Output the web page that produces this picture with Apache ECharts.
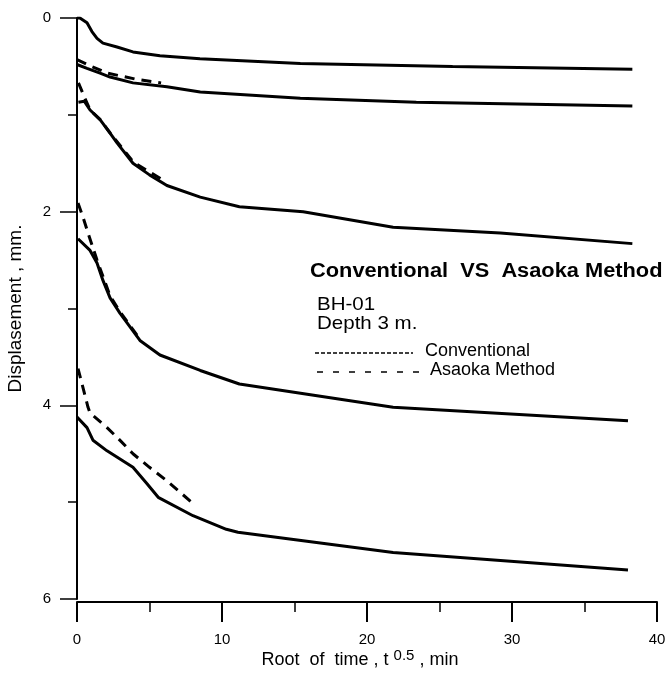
<!DOCTYPE html>
<html>
<head>
<meta charset="utf-8">
<script src="https://cdn.jsdelivr.net/npm/echarts@6/dist/echarts.min.js"></script>
<style>
    html, body { margin: 0; padding: 0; background: #fff; }
    #chart { width: 668px; height: 676px; }
</style>
</head>
<body>
<div id="chart"></div>
<script>
// x = root of time (t^0.5, min), y = displacement (mm)
const conv1 = [[0, 0], [0.2, 0], [0.69, 0.05], [1.03, 0.14], [1.38, 0.21], [1.79, 0.26], [2.76, 0.30], [3.86, 0.35], [5.72, 0.39], [8.48, 0.42], [15.4, 0.47], [25.9, 0.50], [38.3, 0.53]];
const conv2 = [[0, 0.48], [0.69, 0.52], [1.59, 0.57], [2.28, 0.61], [3.86, 0.67], [6.2, 0.71], [8.5, 0.765], [15.4, 0.83], [23.4, 0.87], [31.4, 0.89], [38.3, 0.91]];
const conv3 = [[0.1, 0.87], [0.5, 0.86], [0.9, 0.95], [1.59, 1.05], [2.28, 1.19], [2.76, 1.29], [3.86, 1.50], [5.0, 1.62], [6.2, 1.73], [8.5, 1.85], [11.2, 1.95], [15.6, 2.00], [21.8, 2.16], [29.2, 2.22], [38.3, 2.33]];
const conv4 = [[0.07, 2.28], [0.9, 2.40], [1.38, 2.53], [1.79, 2.71], [2.28, 2.89], [2.97, 3.05], [3.86, 3.23], [4.34, 3.33], [5.72, 3.48], [8.5, 3.64], [11.2, 3.78], [21.8, 4.02], [38.0, 4.16]];
const conv5 = [[0, 4.12], [0.69, 4.23], [1.1, 4.36], [2.07, 4.47], [3.86, 4.64], [4.83, 4.81], [5.6, 4.95], [8.0, 5.14], [10.3, 5.28], [11.1, 5.31], [21.8, 5.52], [38.0, 5.70]];

const asaoka2 = [[0, 0.43], [1.0, 0.50], [2.1, 0.57], [4.0, 0.63], [5.8, 0.67]];
const asaoka3 = [[0.1, 0.67], [0.55, 0.83], [0.9, 0.95], [1.6, 1.05], [2.3, 1.19], [3.9, 1.49], [5.9, 1.67]];
const asaoka4 = [[0.07, 1.91], [0.4, 2.05], [0.76, 2.22], [1.38, 2.50], [2.28, 2.87], [3.0, 3.04], [4.3, 3.31]];
const asaoka5 = [[0.07, 3.62], [0.76, 4.02], [0.9, 4.08], [2.07, 4.23], [2.76, 4.33], [3.86, 4.50], [5.0, 4.64], [6.2, 4.78], [7.9, 5.00]];

const FONT = "'Liberation Sans', Arial, sans-serif";

const chart = echarts.init(document.getElementById('chart'));

function convSeries(data) {
    return {
        name: 'Conventional',
        type: 'line',
        data: data,
        symbol: 'none',
        lineStyle: { color: '#000', width: 3 },
        silent: true
    };
}

function asaokaSeries(data) {
    return {
        name: 'Asaoka Method',
        type: 'line',
        data: data,
        symbol: 'none',
        lineStyle: { color: '#000', width: 3, type: [10, 7] },
        silent: true
    };
}

const option = {
    backgroundColor: '#fff',
    animation: false,
    grid: { left: 77, right: 11, top: 18, bottom: 77, outerBoundsMode: 'none' },
    xAxis: {
        type: 'value',
        position: 'bottom',
        min: 0,
        max: 40,
        interval: 10,
        offset: 3,
        name: 'Root  of  time , t {sup|0.5} , min',
        nameLocation: 'middle',
        nameGap: 46,
        nameMoveOverlap: false,
        nameTextStyle: {
            fontFamily: FONT, fontSize: 18, color: '#000', padding: [0, 14, 0, 0],
            rich: { sup: { fontFamily: FONT, fontSize: 15, color: '#000', padding: [0, 0, 10, 0] } }
        },
        axisLine: { onZero: false, lineStyle: { color: '#000', width: 2 } },
        axisTick: { length: 20, lineStyle: { color: '#000', width: 2 } },
        minorTick: { show: true, splitNumber: 2, length: 10, lineStyle: { color: '#000', width: 1.5 } },
        axisLabel: { fontFamily: FONT, fontSize: 15, color: '#000', margin: 30 },
        splitLine: { show: false }
    },
    yAxis: {
        type: 'value',
        inverse: true,
        min: 0,
        max: 6,
        interval: 2,
        name: 'Displasement , mm.',
        nameLocation: 'middle',
        nameGap: 52,
        nameMoveOverlap: false,
        nameTextStyle: { fontFamily: FONT, fontSize: 19, color: '#000' },
        axisLine: { onZero: false, lineStyle: { color: '#000', width: 2 } },
        axisTick: { length: 17, lineStyle: { color: '#000', width: 1.5 } },
        minorTick: { show: true, splitNumber: 2, length: 9, lineStyle: { color: '#000', width: 1.5 } },
        axisLabel: { fontFamily: FONT, fontSize: 15, color: '#000', margin: 26 },
        splitLine: { show: false }
    },
    graphic: [
        { type: 'text', x: 310, y: 271, scaleX: 1.09, style: { text: 'Conventional  VS  Asaoka Method', font: 'bold 20px ' + FONT, fill: '#000', verticalAlign: 'middle' } },
        { type: 'text', x: 317, y: 305, scaleX: 1.08, style: { text: 'BH-01', font: '19px ' + FONT, fill: '#000', verticalAlign: 'middle' } },
        { type: 'text', x: 317, y: 324, scaleX: 1.08, style: { text: 'Depth 3 m.', font: '19px ' + FONT, fill: '#000', verticalAlign: 'middle' } },
        { type: 'line', shape: { x1: 315, y1: 353, x2: 413, y2: 353 }, style: { stroke: '#000', lineWidth: 1.5, lineDash: [4, 2] } },
        { type: 'text', x: 425, y: 351, style: { text: 'Conventional', font: '18px ' + FONT, fill: '#000', verticalAlign: 'middle' } },
        { type: 'line', shape: { x1: 317, y1: 372, x2: 420, y2: 372 }, style: { stroke: '#000', lineWidth: 1.5, lineDash: [6, 10] } },
        { type: 'text', x: 430, y: 370, style: { text: 'Asaoka Method', font: '18px ' + FONT, fill: '#000', verticalAlign: 'middle' } }
    ],
    series: [
        convSeries(conv1),
        convSeries(conv2),
        convSeries(conv3),
        convSeries(conv4),
        convSeries(conv5),
        asaokaSeries(asaoka2),
        asaokaSeries(asaoka3),
        asaokaSeries(asaoka4),
        asaokaSeries(asaoka5)
    ]
};

chart.setOption(option);
</script>
</body>
</html>
